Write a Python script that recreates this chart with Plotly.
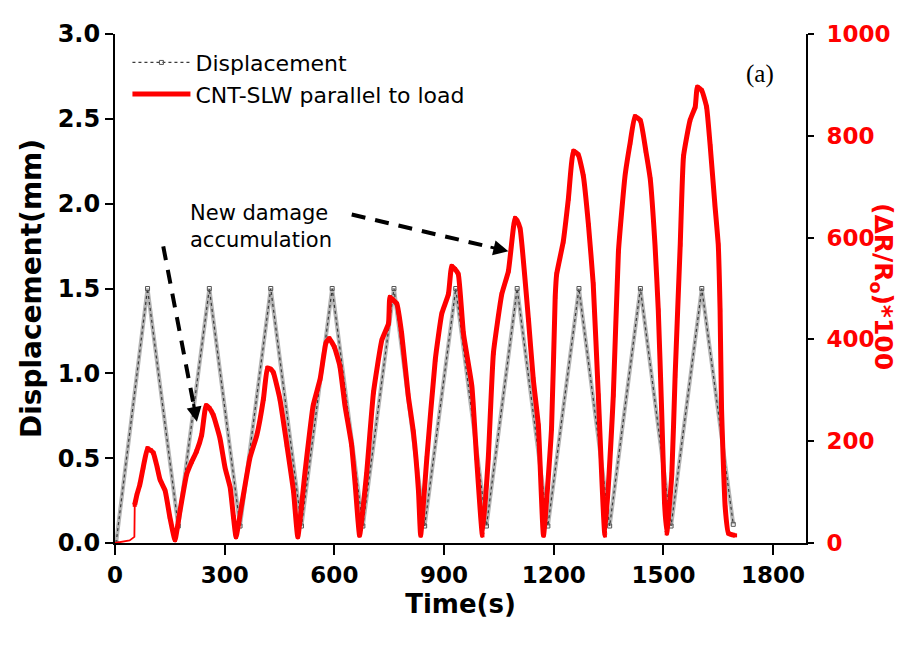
import plotly.graph_objects as go

# Displacement (mm) – triangle wave vertices
disp_t = [3, 89, 173, 258, 342, 426, 510, 594, 678, 763, 847, 932, 1016, 1100,
          1184, 1269, 1353, 1437, 1521, 1605, 1691]
disp_v = [0.0, 1.5, 0.1, 1.5, 0.1, 1.5, 0.1, 1.5, 0.1, 1.5, 0.1, 1.5, 0.1, 1.5,
          0.1, 1.5, 0.1, 1.5, 0.1, 1.5, 0.11]

# (dR/R0)*100 for CNT-SLW parallel to load
res_t = [0, 20, 40, 53, 54, 60, 68, 77, 89, 98, 105, 115, 123, 137, 150, 164,
         178, 196, 210, 223, 237, 249, 258, 269, 287, 301, 315, 324, 331,
         347, 369, 388, 406, 417, 425, 433, 451, 470, 488, 500,
         520, 542, 561, 577, 586, 600, 615, 629, 647, 657, 669,
         688, 707, 730, 748, 752, 760, 771, 784, 802, 816, 830, 836,
         853, 876, 894, 912, 921, 930, 939, 953, 976, 989, 1005,
         1021, 1035, 1058, 1076, 1094, 1100, 1108, 1131, 1144, 1158, 1172,
         1194, 1204, 1208, 1226, 1240, 1254, 1267, 1281, 1295, 1308, 1322, 1340,
         1363, 1377, 1395, 1409, 1422, 1437, 1452, 1464, 1477, 1486, 1495, 1503, 1509,
         1523, 1532, 1546, 1555, 1573, 1587, 1593, 1605, 1618, 1628, 1641, 1650,
         1655, 1659, 1669, 1678, 1696]
res_v = [0, 2, 5, 12, 75, 95, 115, 148, 186, 182, 177, 150, 125, 103, 51, 6,
         64, 135, 160, 180, 212, 270, 265, 251, 206, 148, 109, 51, 12,
         77, 167, 212, 283, 344, 342, 335, 283, 193, 103, 12,
         141, 270, 322, 393, 402, 385, 348, 270, 193, 115, 15,
         135, 296, 399, 431, 483, 478, 470, 412, 290, 219, 103, 15,
         167, 360, 451, 489, 544, 538, 528, 412, 309, 167, 15,
         167, 373, 489, 534, 638, 633, 618, 438, 322, 231, 15,
         225, 483, 528, 592, 676, 770, 763, 721, 625, 509, 290, 15,
         290, 573, 721, 786, 838, 830, 770, 715, 586, 457, 264, 80, 19,
         135, 328, 586, 760, 831, 857, 896, 889, 857, 780, 663, 586,
         457, 264, 70, 19, 15]

x_ticks = [0, 300, 600, 900, 1200, 1500, 1800]
y_ticks = [0.0, 0.5, 1.0, 1.5, 2.0, 2.5, 3.0]
y2_ticks = [0, 200, 400, 600, 800, 1000]

SANS = "DejaVu Sans"
RED = "#ff0000"
N_START = 5  # thin initial segment (before the jump)

fig = go.Figure()
fig.add_trace(go.Scatter(x=disp_t, y=disp_v, mode="lines",
                         line=dict(color="#b4b4b4", width=4),
                         showlegend=False, hoverinfo="skip"))
fig.add_trace(go.Scatter(x=disp_t, y=disp_v, mode="lines+markers",
                         name="Displacement",
                         line=dict(color="#3a3a3a", width=1.2, dash="dot"),
                         marker=dict(symbol="square-open", size=4, color="#555555")))
fig.add_trace(go.Scatter(x=res_t[:N_START], y=res_v[:N_START], yaxis="y2", mode="lines",
                         line=dict(color=RED, width=1.8), showlegend=False,
                         hoverinfo="skip"))
fig.add_trace(go.Scatter(x=res_t[N_START - 1:], y=res_v[N_START - 1:], yaxis="y2",
                         mode="lines+markers", name="CNT-SLW parallel to load",
                         line=dict(color=RED, width=5, shape="spline", smoothing=0.4),
                         marker=dict(symbol="square", size=4, color=RED)))

# dashed arrows
arrows = [((132, 1.748), (214, 0.828), (224, 0.714)),
          ((647.5, 1.936), (1023, 1.746), (1076, 1.719))]
for (x0, y0), (x1, y1), (xt, yt) in arrows:
    fig.add_shape(type="line", x0=x0, y0=y0, x1=x1, y1=y1, xref="x", yref="y",
                  line=dict(color="black", width=4, dash="14px,10px"))
    fig.add_annotation(x=xt, y=yt, ax=x1, ay=y1, xref="x", yref="y",
                       axref="x", ayref="y", text="", showarrow=True,
                       arrowhead=2, arrowsize=1, arrowwidth=3, arrowcolor="black",
                       standoff=0, startstandoff=0)

fig.add_annotation(x=200, y=1.863, xref="x", yref="y", text="New damage<br>accumulation",
                   showarrow=False, xanchor="left", yanchor="middle", align="left",
                   font=dict(family=SANS, size=21, color="black"))
fig.add_annotation(x=1764, y=2.763, xref="x", yref="y", text="(a)", showarrow=False,
                   font=dict(family="Liberation Serif", size=25, color="black"))
fig.add_annotation(x=1.136, y=0.503, xref="paper", yref="paper",
                   text="<b>(ΔR/R<sub>o</sub>)*100</b>", textangle=90, showarrow=False,
                   font=dict(family=SANS, size=25, color=RED))

fig.update_layout(
    width=910, height=648,
    margin=dict(l=107, r=112, t=18, b=113),
    paper_bgcolor="white", plot_bgcolor="white",
    font=dict(family=SANS, color="black"),
    legend=dict(x=0.018, y=0.985, xanchor="left", yanchor="top",
                bgcolor="rgba(0,0,0,0)", font=dict(family=SANS, size=22),
                itemwidth=58, tracegroupgap=0),
    xaxis=dict(range=[0, 1890], tickvals=x_ticks, ticks="outside", ticklen=10,
               tickwidth=2, tickcolor="black", showline=True, linecolor="black",
               linewidth=2, showgrid=False, zeroline=False,
               tickfont=dict(family=SANS, size=23, color="black", weight="bold"),
               title=dict(text="<b>Time(s)</b>", font=dict(family=SANS, size=26),
                          standoff=8)),
    xaxis2=dict(overlaying="x", matches="x", side="top", tickvals=x_ticks,
                ticks="inside", ticklen=8, tickwidth=2, tickcolor="black",
                showline=True, linecolor="black", linewidth=2, showgrid=False,
                zeroline=False, showticklabels=False),
    yaxis=dict(range=[0, 3], tickvals=y_ticks, tickformat=".1f", ticks="outside",
               ticklen=8, tickwidth=2, tickcolor="black", showline=True,
               linecolor="black", linewidth=2, showgrid=False, zeroline=False,
               tickfont=dict(family=SANS, size=24, color="black", weight="bold"),
               title=dict(text="<b>Displacement(mm)</b>",
                          font=dict(family=SANS, size=28), standoff=8)),
    yaxis2=dict(overlaying="y", side="right", range=[0, 1000], tickvals=y2_ticks,
                ticks="outside", ticklen=6, tickwidth=2, tickcolor="black",
                showline=True, linecolor="black", linewidth=2, showgrid=False,
                zeroline=False, ticklabelstandoff=8,
                tickfont=dict(family=SANS, size=23, color=RED, weight="bold")),
)

fig.write_html("out.html")
